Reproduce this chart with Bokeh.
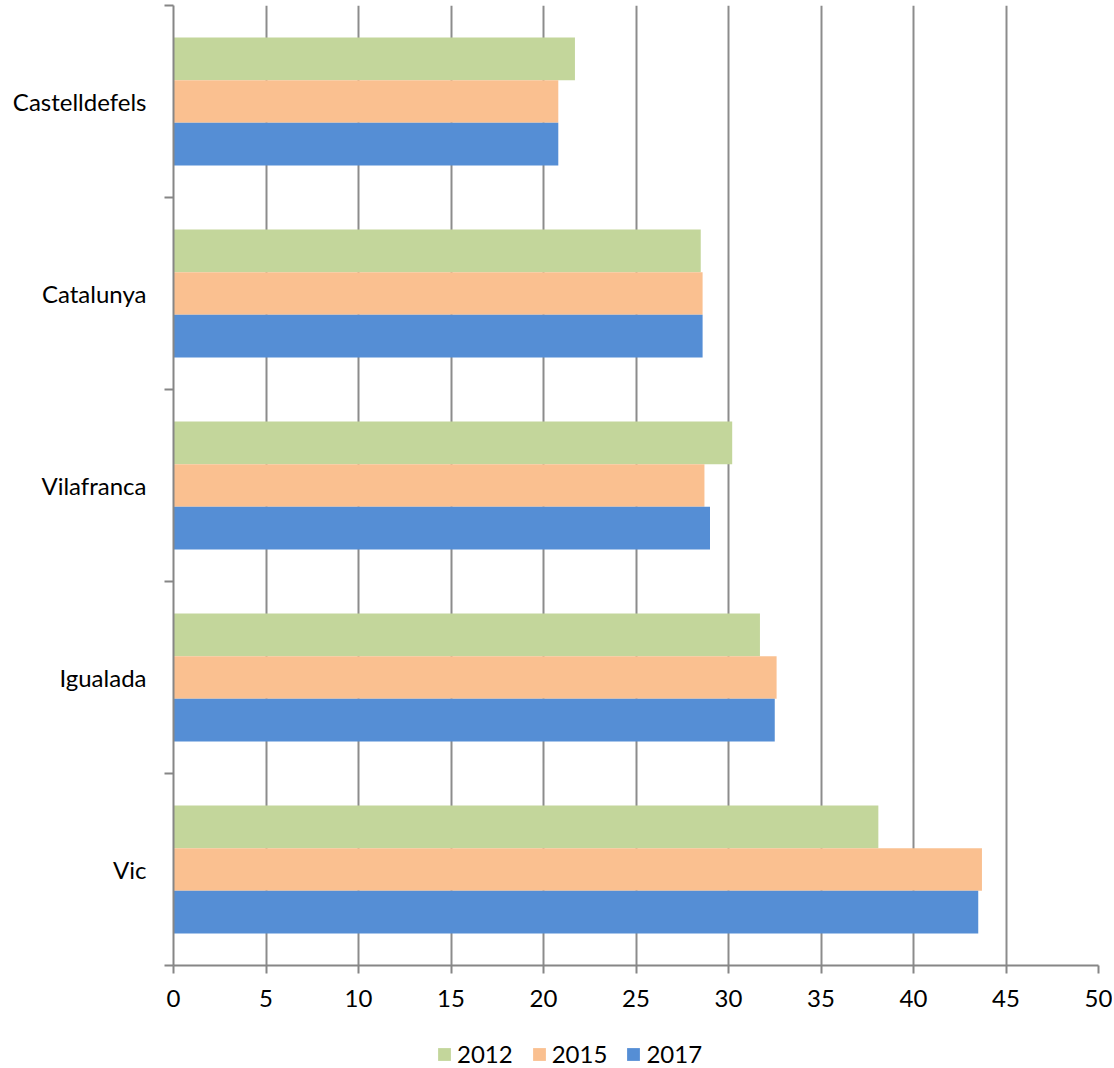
from bokeh.plotting import figure
from bokeh.layouts import column
from bokeh.models import Range1d, FixedTicker, ColumnDataSource, Legend, LegendItem
from bokeh.embed import file_html
from bokeh.resources import INLINE

categories = ["Vic", "Igualada", "Vilafranca", "Catalunya", "Castelldefels"]
years = ["2012", "2015", "2017"]
v2012 = [38.1, 31.7, 30.2, 28.5, 21.7]
v2015 = [43.7, 32.6, 28.7, 28.6, 20.8]
v2017 = [43.5, 32.5, 29.0, 28.6, 20.8]
x_ticks = [0, 5, 10, 15, 20, 25, 30, 35, 40, 45, 50]

colors = ["#C3D69B", "#FAC090", "#558ED5"]
FONT = "Lato"
FS = "24px"
BAR_H = 0.222
offsets = [BAR_H, 0.0, -BAR_H]

W = 1112
p = figure(width=W, height=1016, x_range=Range1d(0, 50), y_range=Range1d(0, 5),
           output_backend="svg", toolbar_location=None,
           min_border_left=173, min_border_right=14, min_border_top=5, min_border_bottom=51)
p.outline_line_color = None

for series, off, col in zip([v2012, v2015, v2017], offsets, colors):
    src = ColumnDataSource(dict(y=[i + 0.5 + off for i in range(len(categories))], right=series))
    p.hbar(y="y", left=0, right="right", height=BAR_H, source=src,
           fill_color=col, line_color=None)

# x axis
p.xaxis.ticker = FixedTicker(ticks=x_ticks)
p.xaxis.axis_line_color = "#868686"
p.xaxis.axis_line_width = 2
p.xaxis.major_tick_line_color = "#868686"
p.xaxis.major_tick_line_width = 2
p.xaxis.major_tick_in = 0
p.xaxis.major_tick_out = 8
p.xaxis.minor_tick_line_color = None
p.xaxis.major_label_standoff = 16
p.xaxis.major_label_text_font = FONT
p.xaxis.major_label_text_font_size = FS
p.xaxis.major_label_text_color = "#000000"

# y axis
centers = [i + 0.5 for i in range(len(categories))]
p.yaxis.ticker = FixedTicker(ticks=centers, minor_ticks=list(range(len(categories) + 1)))
p.yaxis.major_label_overrides = {c: name for c, name in zip(centers, categories)}
p.yaxis.axis_line_color = "#868686"
p.yaxis.axis_line_width = 2
p.yaxis.major_tick_line_color = None
p.yaxis.major_tick_in = 0
p.yaxis.major_tick_out = 0
p.yaxis.minor_tick_line_color = "#868686"
p.yaxis.minor_tick_line_width = 2
p.yaxis.minor_tick_in = 0
p.yaxis.minor_tick_out = 9
p.yaxis.major_label_standoff = 18
p.yaxis.major_label_text_font = FONT
p.yaxis.major_label_text_font_size = FS
p.yaxis.major_label_text_color = "#000000"

# grid
p.xgrid.ticker = FixedTicker(ticks=x_ticks)
p.xgrid.grid_line_color = "#8C8C8C"
p.xgrid.grid_line_width = 2
p.ygrid.visible = False

# legend strip (swatch renderers sit outside the visible range)
lg = figure(width=W, height=52, x_range=Range1d(0, 1), y_range=Range1d(0, 1),
            output_backend="svg", toolbar_location=None,
            x_axis_location=None, y_axis_location=None,
            min_border_left=173, min_border_right=14, min_border_top=0, min_border_bottom=0)
lg.outline_line_color = None
lg.grid.visible = False
dummies = []
for col in colors:
    dummies.append(lg.hbar(y=[-10], left=[0], right=[1], height=1, fill_color=col, line_color=None))

legend = Legend(items=[LegendItem(label=y, renderers=[r]) for y, r in zip(years, dummies)],
                orientation="horizontal", location=(263, 0),
                glyph_width=16, glyph_height=16, label_standoff=5, spacing=18,
                padding=0, margin=0, border_line_color=None, background_fill_alpha=0,
                label_text_font=FONT, label_text_font_size=FS, label_text_color="#000000")
lg.add_layout(legend, "center")

open("out.html", "w").write(file_html(column(p, lg, spacing=0), INLINE))
